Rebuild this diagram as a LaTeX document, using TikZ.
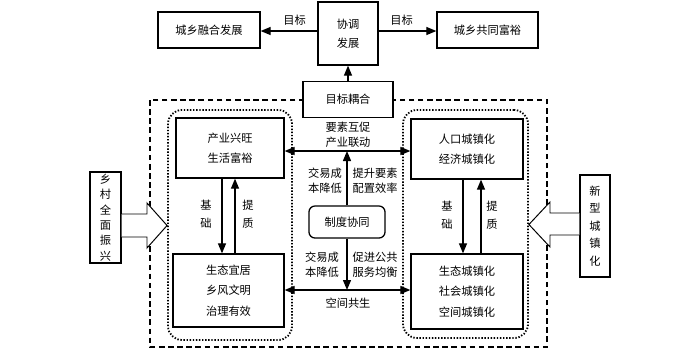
\documentclass[tikz,border=0pt]{standalone}
\usepackage{fontspec}
\setmainfont{Noto Sans CJK SC}
\usetikzlibrary{arrows.meta,positioning,calc}

\begin{document}
\begin{tikzpicture}[x=0.025cm,y=-0.025cm,
  every node/.style={font=\fontsize{8}{14.5}\selectfont},
  box/.style={draw,line width=0.9pt,fill=white,align=center,inner sep=0pt},
  arr/.style={-{Triangle[length=0.25cm,width=0.2cm]},line width=0.9pt},
  darr/.style={{Triangle[length=0.25cm,width=0.2cm]}-{Triangle[length=0.25cm,width=0.2cm]},line width=0.9pt},
  lbl/.style={align=center,font=\fontsize{8}{10.7}\selectfont,inner sep=1pt},
  dotbox/.style={draw,line width=1.3pt,dash pattern=on 1pt off 1.2pt,rounded corners=0.35cm,inner sep=0pt},
  hollow/.style={draw,line width=0.7pt,fill=white},
]
\useasboundingbox (0,0) rectangle (700,350);

% top row
\node[box,minimum width=1.5cm,minimum height=1.575cm,font=\fontsize{8}{13.5}\selectfont] (xietiao) at (348,33.5) {协调\\发展};
\node[box,minimum width=2.55cm,minimum height=0.9cm] (ronghe) at (209,30) {城乡融合发展};
\node[box,minimum width=2.525cm,minimum height=0.9cm] (fuyu) at (487.5,30) {城乡共同富裕};

\draw[arr] (xietiao.west |- 0,31) -- node[above,pos=0.4] {目标} (ronghe.east |- 0,31);
\draw[arr] (xietiao.east |- 0,31) -- node[above,pos=0.4] {目标} (fuyu.west |- 0,31);

% outer frame
\draw[line width=0.9pt,dash pattern=on 4pt off 2.5pt] (150,100) rectangle (547,347);
\node[box,minimum width=2.25cm,minimum height=0.9cm,below=0.375cm of xietiao] (ouhe) {目标耦合};
\draw[arr] (ouhe) -- (xietiao);

% rural side
\node[dotbox,minimum width=3.1cm,minimum height=5.75cm] (lgroup) at (230,225) {};
\node[box,minimum width=2.7cm,minimum height=1.5cm] (chanye) at (230,148) {产业兴旺\\生活富裕};
\node[box,minimum width=2.775cm,minimum height=1.825cm] (shengtai) at (228.5,290.5) {生态宜居\\乡风文明\\治理有效};
\draw[arr] ([xshift=-0.2cm]chanye.south) -- ([xshift=-0.2cm]chanye.south |- shengtai.north);
\draw[arr] ([xshift=0.125cm]chanye.south |- shengtai.north) -- ([xshift=0.125cm]chanye.south);
\node[lbl,font=\fontsize{8}{12.8}\selectfont] (jichuL) at (206,214) {基\\础};
\node[lbl,font=\fontsize{8}{12.8}\selectfont] (tizhiL) at (248,214) {提\\质};

\node[box,minimum width=0.775cm,minimum height=2.275cm,font=\fontsize{8}{10.9}\selectfont] (xiangcun) at (105.5,217.5) {乡\\村\\全\\面\\振\\兴};
\draw[hollow] (xiangcun.east |- 0,214) -- (147,214) -- (147,203) -- (lgroup.west |- 0,225.5)
  -- (147,248) -- (147,237) -- (xiangcun.east |- 0,237);

% urban side
\node[dotbox,minimum width=3.125cm,minimum height=5.7cm] (rgroup) at (465.5,224) {};
\node[box,minimum width=2.8cm,minimum height=1.5cm] (renkou) at (467,149) {人口城镇化\\经济城镇化};
\node[box,minimum width=2.8cm,minimum height=1.875cm] (stcz) at (467,291.5) {生态城镇化\\社会城镇化\\空间城镇化};
\draw[arr] ([xshift=-0.1cm]renkou.south) -- ([xshift=-0.1cm]renkou.south |- stcz.north);
\draw[arr] ([xshift=0.35cm]renkou.south |- stcz.north) -- ([xshift=0.35cm]renkou.south);
\node[lbl,font=\fontsize{8}{12.8}\selectfont] (jichuR) at (447,215.5) {基\\础};
\node[lbl,font=\fontsize{8}{12.8}\selectfont] (tizhiR) at (492,215.5) {提\\质};

\node[box,minimum width=0.75cm,minimum height=2.55cm,font=\fontsize{8}{12.4}\selectfont] (xinxing) at (595,226) {新\\型\\城\\镇\\化};
\draw[hollow] (xinxing.west |- 0,213) -- (550,213) -- (550,202) -- (rgroup.east |- 0,224.5)
  -- (550,247) -- (550,235) -- (xinxing.west |- 0,235);

% institutional coordination
\node[box,rounded corners=0.15cm,minimum width=1.9cm,minimum height=0.8cm] (zhidu) at (347,222) {制度协同};
\coordinate (topmid) at (zhidu.north |- 0,151);
\coordinate (botmid) at (zhidu.south |- 0,290);
\draw[darr] (chanye.east |- topmid) -- (renkou.west |- topmid);
\draw[darr] (shengtai.east |- botmid) -- (stcz.west |- botmid);
\draw[arr] (zhidu.north) -- (topmid);
\draw[arr] (zhidu.south) -- (botmid);

\node[lbl] (yaosu) at (348,134.5) {要素互促\\产业联动};
\node[lbl] (jiaoyi1) at (325,180.5) {交易成\\本降低};
\node[lbl] (tisheng) at (375,180.5) {提升要素\\配置效率};
\node[lbl] (jiaoyi2) at (322,264.5) {交易成\\本降低};
\node[lbl] (cujin) at (375,264.5) {促进公共\\服务均衡};
\node[lbl] (kongjian) at (348,303) {空间共生};
\end{tikzpicture}
\end{document}
